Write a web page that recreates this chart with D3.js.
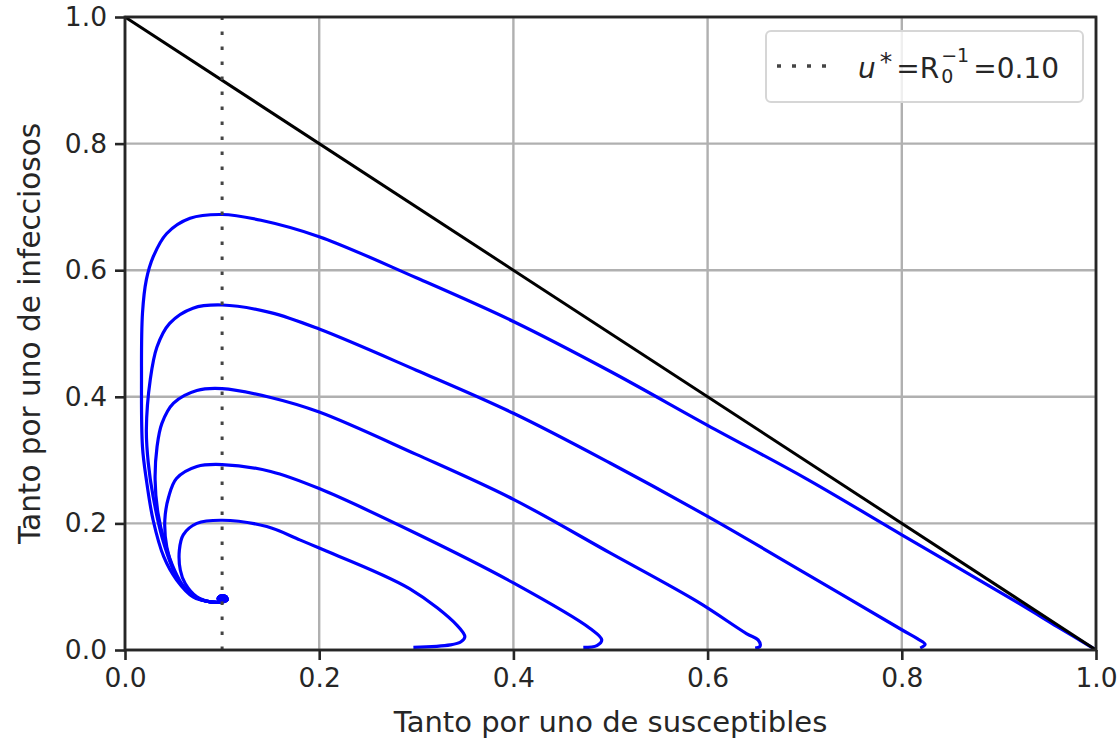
<!DOCTYPE html>
<meta charset="utf-8">
<style>
  body { margin: 0; background: #fff; }
  text { font-family: "DejaVu Sans", sans-serif; fill: #262626; }
</style>
<svg width="1120" height="746"></svg>
<script src="https://d3js.org/d3.v7.min.js"></script>
<script>
// tick values
const xTicks = [0, 0.2, 0.4, 0.6, 0.8, 1.0];
const yTicks = [0, 0.2, 0.4, 0.6, 0.8, 1.0];
const uStar = 0.10;
const uStarLabel = "0.10";
const diagonal = [[0, 1], [1, 0]];

// spiral end around the equilibrium (same for every orbit)
const spiralEnd = [[0.088,0.076],[0.1,0.076],[0.105,0.079],[0.104,0.084],[0.098,0.085],
  [0.096,0.081],[0.099,0.078],[0.103,0.080],[0.102,0.083],[0.099,0.082],[0.1,0.080]];

// orbits, [u, v], from start toward the equilibrium
const orbit1 = [[0.297,0.004],[0.335,0.008],[0.346,0.013],[0.350,0.021],[0.342,0.039],[0.293,0.097],
  [0.2,0.161],[0.18,0.174],[0.146,0.195],[0.1,0.205],[0.074,0.200],[0.060,0.182],
  [0.056,0.158],[0.057,0.126],[0.062,0.105],[0.074,0.084]];
const orbit2 = [[0.472,0.004],[0.486,0.007],[0.491,0.016],[0.479,0.034],[0.4,0.106],[0.3,0.184],
  [0.2,0.255],[0.15,0.282],[0.1,0.293],[0.074,0.290],[0.053,0.271],
  [0.045,0.242],[0.041,0.205],[0.043,0.163],[0.050,0.126],[0.058,0.103],[0.072,0.084]];
const orbit3 = [[0.649,0.003],[0.654,0.006],[0.652,0.016],[0.640,0.026],[0.59,0.076],[0.5,0.153],
  [0.4,0.238],[0.3,0.309],[0.2,0.376],[0.15,0.399],[0.1,0.413],[0.074,0.410],
  [0.050,0.390],[0.038,0.358],[0.033,0.321],[0.031,0.269],[0.034,0.216],[0.041,0.169],[0.051,0.126],
  [0.060,0.101],[0.072,0.084]];
const orbit4 = [[0.819,0.003],[0.824,0.009],[0.816,0.018],[0.8,0.032],[0.7,0.122],[0.6,0.211],
  [0.5,0.295],[0.4,0.374],[0.3,0.442],[0.2,0.507],[0.15,0.533],[0.1,0.545],
  [0.070,0.540],[0.046,0.516],[0.033,0.479],[0.026,0.427],[0.022,0.348],[0.024,0.295],[0.029,0.242],
  [0.038,0.179],[0.050,0.126],[0.060,0.100],[0.072,0.084]];
const orbit5 = [[0.999,0.001],[0.96,0.037],[0.918,0.076],[0.8,0.182],[0.7,0.272],[0.6,0.355],
  [0.5,0.440],[0.4,0.519],[0.3,0.588],[0.2,0.653],[0.14,0.679],[0.1,0.688],
  [0.067,0.682],[0.043,0.658],[0.029,0.621],[0.022,0.585],[0.018,0.532],[0.017,0.427],[0.018,0.321],
  [0.022,0.269],[0.029,0.205],[0.040,0.147],[0.053,0.111],[0.070,0.084]];
const orbits = [orbit1, orbit2, orbit3, orbit4, orbit5].map(o => o.concat(spiralEnd));

var svg = d3.select("svg"),
    width = +svg.attr("width"),
    height = +svg.attr("height"),
    margin = {left: 125, top: 17, right: 24, bottom: 96};

var x = d3.scaleLinear().domain([0, 1]).range([margin.left, width - margin.right]),
    y = d3.scaleLinear().domain([0, 1]).range([height - margin.bottom, margin.top]);

var fmt = d3.format(".1f");

// grid
var grid = svg.append("g").attr("stroke", "#b0b0b0").attr("stroke-width", 2.4);
grid.selectAll(".gx").data(xTicks).enter().append("line")
    .attr("x1", d => x(d)).attr("x2", d => x(d)).attr("y1", y(0)).attr("y2", y(1));
grid.selectAll(".gy").data(yTicks).enter().append("line")
    .attr("y1", d => y(d)).attr("y2", d => y(d)).attr("x1", x(0)).attr("x2", x(1));

var line = d3.line().x(d => x(d[0])).y(d => y(d[1])).curve(d3.curveCatmullRom.alpha(0.5));

svg.append("g").selectAll("path").data(orbits).enter().append("path")
    .attr("d", line)
    .attr("fill", "none")
    .attr("stroke", "#0000ff")
    .attr("stroke-width", 3.2)
    .attr("stroke-linejoin", "round");

svg.append("path")
    .attr("d", d3.line().x(d => x(d[0])).y(d => y(d[1]))(diagonal))
    .attr("stroke", "#000").attr("stroke-width", 3).attr("fill", "none");

svg.append("line")
    .attr("x1", x(uStar)).attr("x2", x(uStar)).attr("y1", y(0)).attr("y2", y(1))
    .attr("stroke", "#444").attr("stroke-width", 3).attr("stroke-dasharray", "3.5,11.5");

// axes
var xAxis = svg.append("g").attr("transform", "translate(0," + y(0) + ")")
    .call(d3.axisBottom(x).tickValues(xTicks).tickFormat(fmt).tickSize(10).tickSizeOuter(0).tickPadding(8));
var yAxis = svg.append("g").attr("transform", "translate(" + x(0) + ",0)")
    .call(d3.axisLeft(y).tickValues(yTicks).tickFormat(fmt).tickSize(10).tickSizeOuter(0).tickPadding(8));
[xAxis, yAxis].forEach(function(a) {
  a.select(".domain").remove();
  a.selectAll(".tick line").attr("stroke", "#262626").attr("stroke-width", 2.6);
  a.selectAll(".tick text").attr("fill", "#262626").style("font-size", "26.5px").attr("font-family", null);
});

// spines
svg.append("rect")
    .attr("x", x(0)).attr("y", y(1)).attr("width", x(1) - x(0)).attr("height", y(0) - y(1))
    .attr("fill", "none").attr("stroke", "#262626").attr("stroke-width", 2.8);

// axis labels
svg.append("text").attr("x", (x(0) + x(1)) / 2).attr("y", 732)
    .attr("text-anchor", "middle").style("font-size", "29px")
    .text("Tanto por uno de susceptibles");
svg.append("text").attr("transform", "translate(40," + (y(0) + y(1)) / 2 + ") rotate(-90)")
    .attr("text-anchor", "middle").style("font-size", "29.5px")
    .text("Tanto por uno de infecciosos");

// legend
var lg = svg.append("g");
lg.append("rect").attr("x", 766).attr("y", 31).attr("width", 317).attr("height", 71).attr("rx", 5)
    .attr("fill", "#fff").attr("fill-opacity", 0.8).attr("stroke", "#d6d6d6").attr("stroke-width", 2);
lg.append("line").attr("x1", 777).attr("x2", 831).attr("y1", 66).attr("y2", 66)
    .attr("stroke", "#444").attr("stroke-width", 3.5).attr("stroke-dasharray", "4,11");

var tx = 858, base = 78;
function piece(str, size, dy, italic, advance) {
  var t = lg.append("text").attr("x", tx).attr("y", base + dy)
      .style("font-size", size + "px").text(str);
  if (italic) t.style("font-style", "italic");
  var w = t.node().getComputedTextLength();
  if (advance) tx += w;
  return w;
}
piece("u", 28, 0, true, true);
tx += 4;
piece("*", 25, -8, false, true);
tx += 4;
piece(" =R", 28, 0, false, true);
tx += 2;
var w0 = piece("0", 19, 5, false, false);
var w1 = piece("\u22121", 19, -16, false, false);
tx += Math.max(w0, w1) + 4;
piece("=" + uStarLabel, 28, 0, false, true);
</script>
